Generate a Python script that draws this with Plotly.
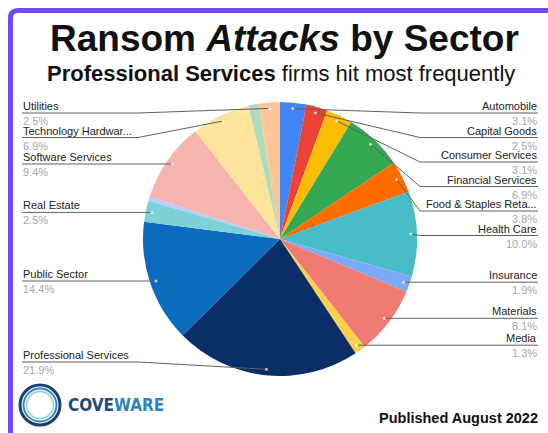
import math
import plotly.graph_objects as go

# ---- data ----
categories = ["Automobile", "Capital Goods", "Consumer Services", "Financial Services",
              "Food & Staples Retailing", "Health Care", "Insurance", "Materials", "Media",
              "Professional Services", "Public Sector", "Real Estate", "Retailing",
              "Software Services", "Technology Hardware", "Telecommunication Services", "Utilities"]
display_labels = ["Automobile", "Capital Goods", "Consumer Services", "Financial Services",
                  "Food & Staples Reta...", "Health Care", "Insurance", "Materials", "Media",
                  "Professional Services", "Public Sector", "Real Estate", "",
                  "Software Services", "Technology Hardwar...", "", "Utilities"]
shares = [3.1, 2.5, 3.1, 6.9, 3.8, 10.0, 1.9, 8.1, 1.3, 21.9, 14.4, 2.5, 0.5, 9.4, 6.9, 1.2, 2.5]
colors = ["#4285F4", "#EA4335", "#FBBC04", "#34A853", "#FF6D01", "#46BDC6", "#7BAAF7",
          "#F07B72", "#FCD04F", "#0A2F66", "#0C6BBE", "#7ED1D7", "#B3CEFB", "#F7B4AE",
          "#FDE49B", "#AEDCBA", "#FFC599"]

W, H = 548, 433
CX, CY, R = 280, 239, 137
ANCHOR_R = 131

fig = go.Figure()
fig.add_trace(go.Pie(
    labels=categories, values=shares, sort=False, direction="clockwise", rotation=0,
    marker=dict(colors=colors, line=dict(width=0)), textinfo="none", hoverinfo="label+percent",
    showlegend=False,
    domain=dict(x=[(CX - R) / W, (CX + R) / W], y=[(H - CY - R) / H, (H - CY + R) / H]),
))

# ---- leader lines & labels computed from the data ----
total = sum(shares)
cum = 0
items = []
for cat, lab, v in zip(categories, display_labels, shares):
    mid = (cum + v / 2) / total * 2 * math.pi
    cum += v
    if not lab:
        continue
    ax = CX + ANCHOR_R * math.sin(mid)
    ay = CY - ANCHOR_R * math.cos(mid)
    items.append(dict(lab=lab, v=v, ax=ax, ay=ay, right=math.sin(mid) >= 0))

TOP, BOTTOM, GAP = 113, 362, 24.5


def place(group):
    group.sort(key=lambda d: d["ay"])
    prev = None
    for d in group:
        y = max(d["ay"], TOP)
        if prev is not None:
            y = max(y, prev + GAP)
        d["ly"] = y
        prev = y
    nxt = None
    for d in reversed(group):
        y = min(d["ly"], BOTTOM)
        if nxt is not None:
            y = min(y, nxt - GAP)
        d["ly"] = y
        nxt = y


right = [d for d in items if d["right"]]
left = [d for d in items if not d["right"]]
place(right)
place(left)

shapes = []
annotations = []
LINE_COL = "#5f5f5f"
FONT = "Liberation Sans, Arial"
for d in right + left:
    if d["right"]:
        ex, edge, anchor = 420, 538, "right"
    else:
        ex, edge, anchor = 138, 22, "left"
    shapes.append(dict(type="path", xref="x", yref="y", layer="above",
                       path=f"M {d['ax']:.1f},{d['ay']:.1f} L {ex},{d['ly']:.1f} L {edge},{d['ly']:.1f}",
                       line=dict(color=LINE_COL, width=1)))
    shapes.append(dict(type="circle", xref="x", yref="y", layer="above",
                       x0=d["ax"] - 1.5, x1=d["ax"] + 1.5, y0=d["ay"] - 1.5, y1=d["ay"] + 1.5,
                       fillcolor="rgba(255,255,255,0.7)", line=dict(width=0)))
    annotations.append(dict(x=edge, y=d["ly"], xref="x", yref="y", text=d["lab"],
                            showarrow=False, xanchor=anchor, yanchor="bottom",
                            font=dict(size=11, color="#222222", family=FONT), borderpad=0))
    annotations.append(dict(x=edge, y=d["ly"] + 1, xref="x", yref="y", text=f"{d['v']:.1f}%",
                            showarrow=False, xanchor=anchor, yanchor="top",
                            font=dict(size=11, color="#a8a8a8", family=FONT), borderpad=0))

# ---- frame ----
shapes.append(dict(type="path", xref="x", yref="y", layer="above",
                   path="M 10.5,433 L 10.5,18 Q 10.5,10.5 18,10.5 L 548,10.5",
                   line=dict(color="#6E4AF3", width=5)))

# ---- logo ----
LX, LY = 40, 405
for rr, col, w in [(20, "#1C3F6E", 3), (16.5, "#2F86BD", 2), (13.5, "#8CC8E0", 1.5)]:
    shapes.append(dict(type="circle", xref="x", yref="y", layer="above",
                       x0=LX - rr, x1=LX + rr, y0=LY - rr, y1=LY + rr,
                       line=dict(color=col, width=w)))
annotations.append(dict(x=66, y=405, xref="x", yref="y", xanchor="left", yanchor="middle",
                        showarrow=False,
                        text="<b><span style='color:#1F4A7C'>COVE</span><span style='color:#2C83C3'>WARE</span></b>",
                        font=dict(size=17, family="DejaVu Sans Condensed, Liberation Sans Narrow, Arial")))
annotations.append(dict(x=540, y=418, xref="x", yref="y", xanchor="right", yanchor="middle",
                        showarrow=False, text="<b>Published August 2022</b>",
                        font=dict(size=14.5, color="#111111", family=FONT)))

# ---- titles ----
annotations.append(dict(x=284, y=38, xref="x", yref="y", xanchor="center", yanchor="middle",
                        showarrow=False, text="<b>Ransom <i>Attacks</i> by Sector</b>",
                        font=dict(size=37, color="#111111", family=FONT)))
annotations.append(dict(x=281, y=73, xref="x", yref="y", xanchor="center", yanchor="middle",
                        showarrow=False,
                        text="<b>Professional Services</b> firms hit most frequently",
                        font=dict(size=22, color="#111111", family=FONT)))

fig.update_layout(
    width=W, height=H, margin=dict(l=0, r=0, t=0, b=0),
    paper_bgcolor="white", plot_bgcolor="rgba(0,0,0,0)",
    xaxis=dict(range=[0, W], visible=False, fixedrange=True, domain=[0, 1]),
    yaxis=dict(range=[H, 0], visible=False, fixedrange=True, domain=[0, 1]),
    shapes=shapes, annotations=annotations, showlegend=False,
)
fig.write_html("out.html", config={"displayModeBar": False},
               post_script="document.body.style.margin='0';document.body.style.overflow='hidden';")
